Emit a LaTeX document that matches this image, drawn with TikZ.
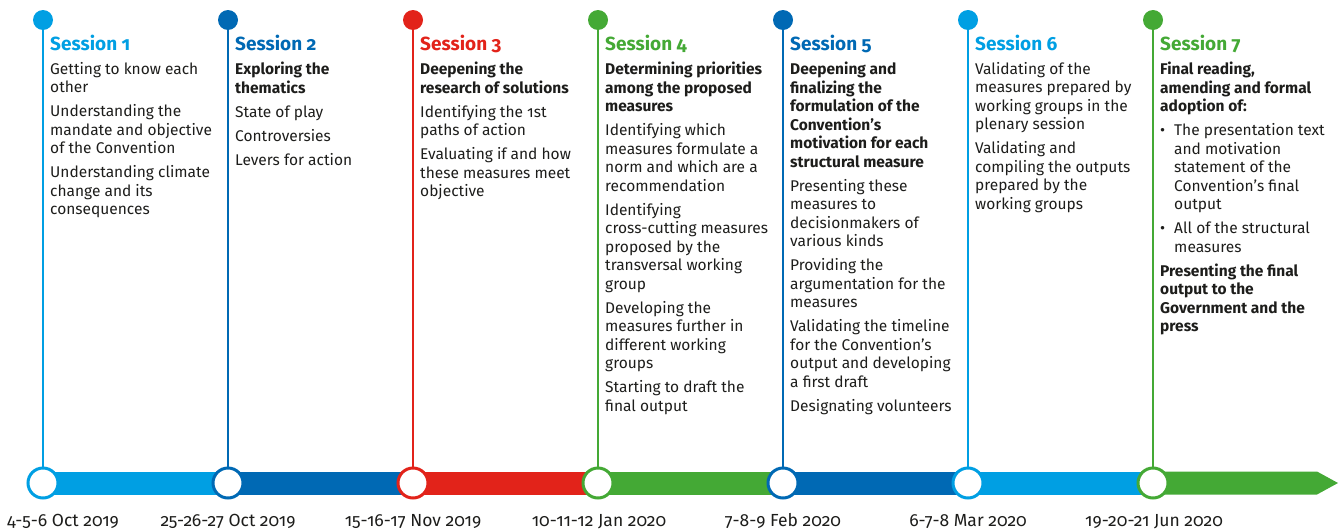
\documentclass[tikz,border=0pt]{standalone}
\usepackage{fontspec}
\setmainfont{Fira Sans}[Numbers=OldStyle]
\definecolor{lb}{HTML}{009FE3}
\definecolor{db}{HTML}{0069B4}
\definecolor{rd}{HTML}{E2231A}
\definecolor{gr}{HTML}{44A935}
\definecolor{txt}{HTML}{1D1D1B}
\newcommand{\pg}{\\[5.5pt]}
\newcommand{\fst}{\rule{0pt}{12pt}}
\newcommand{\bul}{\makebox[14pt][l]{\textbullet}}
\newcommand{\ind}{\hspace*{14pt}}
\begin{document}
\begin{tikzpicture}[x=1pt,y=-1pt,
  topdot/.style={circle, fill=#1, minimum size=20pt, inner sep=0pt},
  ring/.style={circle, draw=#1, line width=3pt, fill=white, minimum size=30pt, inner sep=0pt},
  stem/.style={draw=#1, line width=2.5pt},
  seg/.style={draw=#1, line width=23pt},
  head/.style={font=\fontsize{19}{21}\selectfont\bfseries, text=#1, anchor=base west, inner sep=0pt},
  body/.style={font=\fontsize{15.5}{18.5}\selectfont, text=txt, anchor=north west, align=left, inner sep=0pt},
  datelbl/.style={font=\fontsize{17.5}{20}\selectfont, text=txt, anchor=base, inner sep=0pt}]
\useasboundingbox (0,0) rectangle (1343,530);

% top dots and rings
\foreach \i/\x/\c in {1/43/lb,2/228/db,3/413/rd,4/598/gr,5/783/db,6/968/lb,7/1153/gr}{
  \node[topdot=\c] (t\i) at (\x,20) {};
  \coordinate (c\i) at (\x,483);
}
\coordinate (tipL) at (1317,483);
\coordinate (tip) at (1338,483);

% bar segments
\draw[seg=lb] (c1) -- (c2);
\draw[seg=db] (c2) -- (c3);
\draw[seg=rd] (c3) -- (c4);
\draw[seg=gr] (c4) -- (c5);
\draw[seg=db] (c5) -- (c6);
\draw[seg=lb] (c6) -- (c7);
\fill[gr] ([yshift=-11.5pt]c7) -- ([yshift=-11.5pt]tipL) -- (tip) -- ([yshift=11.5pt]tipL) -- ([yshift=11.5pt]c7) -- cycle;

% rings
\foreach \i/\c in {1/lb,2/db,3/rd,4/gr,5/db,6/lb,7/gr}{
  \node[ring=\c] (r\i) at (c\i) {};
  \draw[stem=\c] (t\i) -- (r\i);
}

% headings
\node[head=lb] (h1) at (50,50) {Session 1};
\node[head=db] (h2) at (235,50) {Session 2};
\node[head=rd] (h3) at (420,50) {Session 3};
\node[head=gr] (h4) at (605,50) {Session 4};
\node[head=db] (h5) at (790,50) {Session 5};
\node[head=lb] (h6) at (975,50) {Session 6};
\node[head=gr] (h7) at (1160,50) {Session 7};

% bodies
\node[body] (b1) at (50,62) {\fst Getting to know each\\other\pg
Understanding the\\mandate and objective\\of the Convention\pg
Understanding climate\\change and its\\consequences};

\node[body] (b2) at (235,62) {\fst\textbf{Exploring the}\\\textbf{thematics}\pg
State of play\pg Controversies\pg Levers for action};

\node[body] (b3) at (420,62) {\fst\textbf{Deepening the}\\\textbf{research of solutions}\pg
Identifying the 1st\\paths of action\pg
Evaluating if and how\\these measures meet\\objective};

\node[body] (b4) at (605,62) {\fst\textbf{Determining priorities}\\\textbf{among the proposed}\\\textbf{measures}\pg
Identifying which\\measures formulate a\\norm and which are a\\recommendation\pg
Identifying\\cross-cutting measures\\proposed by the\\transversal working\\group\pg
Developing the\\measures further in\\different working\\groups\pg
Starting to draft the\\final output};

\node[body] (b5) at (790,62) {\fst\textbf{Deepening and}\\\textbf{finalizing the}\\\textbf{formulation of the}\\\textbf{Convention’s}\\\textbf{motivation for each}\\\textbf{structural measure}\pg
Presenting these\\measures to\\decisionmakers of\\various kinds\pg
Providing the\\argumentation for the\\measures\pg
Validating the timeline\\for the Convention’s\\output and developing\\a first draft\pg
Designating volunteers};

\node[body] (b6) at (975,62) {\fst Validating of the\\measures prepared by\\working groups in the\\plenary session\pg
Validating and\\compiling the outputs\\prepared by the\\working groups};

\node[body] (b7) at (1160,62) {\fst\textbf{Final reading,}\\\textbf{amending and formal}\\\textbf{adoption of:}\pg
\bul The presentation text\\\ind and motivation\\\ind statement of the\\\ind Convention’s final\\\ind output\pg
\bul All of the structural\\\ind measures\pg
\textbf{Presenting the final}\\\textbf{output to the}\\\textbf{Government and the}\\\textbf{press}};

% dates
\node[datelbl] (d1) at (63,526) {4-5-6 Oct 2019};
\node[datelbl] (d2) at (228,526) {25-26-27 Oct 2019};
\node[datelbl] (d3) at (413,526) {15-16-17 Nov 2019};
\node[datelbl] (d4) at (599,526) {10-11-12 Jan 2020};
\node[datelbl] (d5) at (783,526) {7-8-9 Feb 2020};
\node[datelbl] (d6) at (968,526) {6-7-8 Mar 2020};
\node[datelbl] (d7) at (1154,526) {19-20-21 Jun 2020};
\end{tikzpicture}
\end{document}
